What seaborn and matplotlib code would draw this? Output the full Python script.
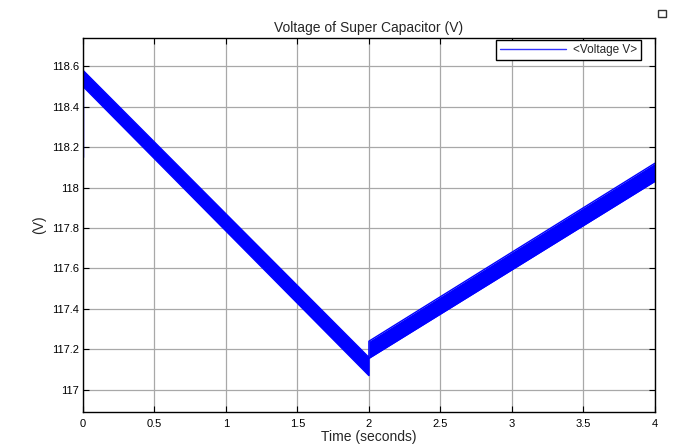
import matplotlib
matplotlib.use("Agg")
import matplotlib.pyplot as plt
import seaborn as sns
import pandas as pd
from matplotlib.patches import Rectangle

# Data (envelope of the rippled voltage band)
time = [0.0, 2.0, 2.0, 4.0]
upper = [118.58, 117.16, 117.24, 118.12]
lower = [118.50, 117.07, 117.155, 118.03]
init_time = [0.0, 0.0]
init_volt = [118.15, 118.55]
xticks = [0, 0.5, 1, 1.5, 2, 2.5, 3, 3.5, 4]
xticklabels = ["0", "0.5", "1", "1.5", "2", "2.5", "3", "3.5", "4"]
yticks = [117, 117.2, 117.4, 117.6, 117.8, 118, 118.2, 118.4, 118.6]
yticklabels = ["117", "117.2", "117.4", "117.6", "117.8", "118", "118.2", "118.4", "118.6"]

sns.set_theme(style="whitegrid")
plt.rcParams['font.family'] = ['Liberation Sans', 'DejaVu Sans']

fig = plt.figure(figsize=(6.8, 4.48), dpi=100)
ax = fig.add_axes([0.122, 0.0804, 0.841, 0.835])
ax.set_facecolor("white")

blue = "#0000ff"
df = pd.DataFrame({"t": time, "up": upper, "lo": lower})
ax.fill_between(df["t"], df["lo"], df["up"], color=blue, linewidth=0)
sns.lineplot(x=df["t"], y=df["up"], ax=ax, color=blue, linewidth=1, sort=False,
             estimator=None, label="<Voltage V>")
sns.lineplot(x=df["t"], y=df["lo"], ax=ax, color=blue, linewidth=1, sort=False,
             estimator=None, legend=False)
ax.plot(init_time, init_volt, color=blue, linewidth=1)

ax.set_xlim(0, 4)
ax.set_ylim(116.89, 118.74)
ax.set_xticks(xticks)
ax.set_xticklabels(xticklabels)
ax.set_yticks(yticks)
ax.set_yticklabels(yticklabels)
ax.grid(True, color="#a8a8a8", linewidth=0.9, linestyle="-")
for s in ax.spines.values():
    s.set_color("black")
    s.set_linewidth(1.0)
ax.tick_params(axis="both", direction="in", length=4, width=0.8, colors="black",
               labelsize=8, top=True, right=True, bottom=True, left=True, pad=3)
ax.tick_params(axis="x", pad=5)

ax.set_title("Voltage of Super Capacitor (V)", fontsize=10, pad=4)
ax.set_xlabel("Time (seconds)", fontsize=10, labelpad=1)
ax.set_ylabel("(V)", fontsize=10, labelpad=4)

leg = ax.legend(loc="upper right", fontsize=8.5, frameon=True, fancybox=False,
                handlelength=5.6, handletextpad=0.6, borderpad=0.35,
                borderaxespad=0.0, bbox_to_anchor=(0.976, 0.995))
leg.get_frame().set_edgecolor("black")
leg.get_frame().set_linewidth(1.0)
leg.get_frame().set_alpha(1)
for h in leg.get_lines():
    h.set_color("#3333ff")

# small window icon at top right
fig.patches.append(Rectangle((0.968, 0.962), 0.011, 0.016, transform=fig.transFigure,
                             fill=False, edgecolor="#333333", linewidth=1))

fig.savefig("out.png", dpi=100)
